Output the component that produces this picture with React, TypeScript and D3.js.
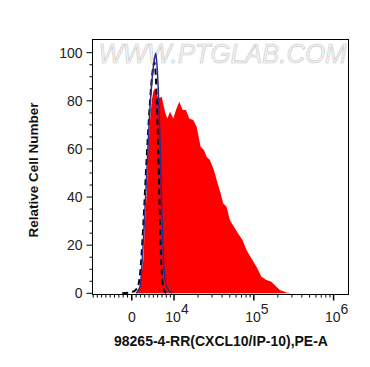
import React from "react";
import * as d3 from "d3";

// Histogram data: x in display (biexponential) decade units, y = relative cell number
const redX = [0.0625, 0.104, 0.145, 0.166, 0.1875, 0.2075, 0.229, 0.25, 0.27, 0.291, 0.3325, 0.375, 0.416, 0.445, 0.479, 0.52, 0.554, 0.595, 0.6375, 0.679, 0.72, 0.77, 0.8125, 0.8625, 0.904, 0.9375, 0.979, 1.029, 1.07, 1.1125, 1.145, 1.1875, 1.229, 1.279, 1.3325, 1.3875, 1.4375, 1.5, 1.5625, 1.625, 1.6875, 1.75, 1.79, 1.855, 1.9375, 2.0];
const redY = [0, 3, 14, 30, 42, 60, 72, 80, 84, 85.2, 81, 81.7, 75.5, 72.7, 75.5, 72.7, 76.2, 79.6, 76.2, 76.2, 72.7, 72, 69.2, 60.9, 59.6, 56.8, 55.4, 51.2, 46.4, 41.6, 37.4, 36, 30.5, 27.7, 24.9, 22.2, 18, 14.5, 11, 6.9, 5.5, 4.8, 3.4, 1.4, 0.3, 0];

const blueX = [0.054, 0.104, 0.145, 0.1875, 0.229, 0.27, 0.2825, 0.3, 0.32, 0.3325, 0.354, 0.375, 0.395, 0.416, 0.4375, 0.5];
const blueY = [0, 3, 22, 50, 77.6, 94, 97, 99.8, 92.8, 84.5, 63.7, 36, 15.2, 6, 2.7, 0];

const blackX = [-0.12, 0.004, 0.066, 0.104, 0.145, 0.1875, 0.229, 0.26, 0.2825, 0.304, 0.3225, 0.339, 0.354, 0.375, 0.3975, 0.429];
const blackY = [0, 0.5, 2, 8, 29, 57, 80, 92, 96, 88, 70, 50, 28, 9, 2, 0];

const yTicks = [0, 20, 40, 60, 80, 100];
const yMinor = [5, 10, 15, 25, 30, 35, 45, 50, 55, 65, 70, 75, 85, 90, 95];
const xMajor = [0, 1e4, 1e5, 1e6];
const xMajorLabel = ["0", "4", "5", "6"];
const xMinor = [
  -9000, -8000, -7000, -6000, -5000, -4000, -3000, -2000, -1000,
  1000, 2000, 3000, 4000, 5000, 6000, 7000, 8000, 9000,
  2e4, 3e4, 4e4, 5e4, 6e4, 7e4, 8e4, 9e4,
  2e5, 3e5, 4e5, 5e5, 6e5, 7e5, 8e5, 9e5,
];

// biexponential-like transform (linear near zero, log above L)
const L = 8035;
const LN10 = Math.LN10;
function T(v: number): number {
  const a = Math.abs(v);
  if (a <= L) return v / (L * LN10);
  return Math.sign(v) * (1 / LN10 + Math.log10(a / L));
}

const left = 92.5, right = 348.5, top = 39.5, bottom = 294.5;
const xs = d3.scaleLinear().domain([-0.4925, 2.716]).range([left, right]);
const ys = d3.scaleLinear().domain([0, 100]).range([293.3, 52.7]);

const font = "Arial, 'Liberation Sans', sans-serif";

function areaPath(xa: number[], ya: number[]) {
  const pts = xa.map((x, i) => [x, ya[i]] as [number, number]);
  return d3.area<[number, number]>().x(d => xs(d[0])).y0(ys(0)).y1(d => ys(d[1]))(pts) || "";
}
function linePath(xa: number[], ya: number[]) {
  const pts = xa.map((x, i) => [x, ya[i]] as [number, number]);
  return d3.line<[number, number]>().x(d => xs(d[0])).y(d => ys(d[1])).curve(d3.curveMonotoneX)(pts) || "";
}

export default function App() {
  return (
    <svg width={370} height={367} style={{ position: "absolute", left: 0, top: 0, background: "#fff" }}>
      <rect x={0} y={0} width={370} height={367} fill="#fff" />
      <defs>
        <clipPath id="plot">
          <rect x={left} y={top} width={right - left} height={bottom - top} />
        </clipPath>
      </defs>
      <text x={(left + right) / 2 + 2} y={63} textAnchor="middle" fontFamily={font} fontSize={27}
        fontStyle="italic" fill="#f5f5f5" stroke="#c6c6c6" strokeWidth={0.6}
        textLength={248} lengthAdjust="spacingAndGlyphs">WWW.PTGLAB.COM</text>
      <g clipPath="url(#plot)">
        <path d={areaPath(redX, redY)} fill="#ff0000" />
        <path d={linePath(blackX, blackY)} fill="none" stroke="#000" strokeWidth={2} strokeDasharray="6,4" />
        <path d={linePath(blueX, blueY)} fill="none" stroke="#2a2a90" strokeWidth={1.5} />
      </g>
      <rect x={left} y={top} width={right - left} height={bottom - top} fill="none" stroke="#000" strokeWidth={1} />
      {/* Y axis */}
      {yTicks.map(t => (
        <g key={"y" + t}>
          <line x1={left - 6} x2={left} y1={ys(t)} y2={ys(t)} stroke="#000" />
          <text x={left - 10} y={ys(t) + 5} textAnchor="end" fontFamily={font} fontSize={14} fill="#222">{t}</text>
        </g>
      ))}
      {yMinor.map(t => (
        <line key={"ym" + t} x1={left - 3} x2={left} y1={ys(t)} y2={ys(t)} stroke="#000" />
      ))}
      {/* X axis */}
      {xMinor.map(v => (
        <line key={"xm" + v} x1={xs(T(v))} x2={xs(T(v))} y1={bottom} y2={bottom + 3} stroke="#000" />
      ))}
      {xMajor.map((v, i) => {
        const px = xs(T(v));
        return (
          <g key={"x" + v}>
            <line x1={px} x2={px} y1={bottom} y2={bottom + 6} stroke="#000" strokeWidth={1.5} />
            {v === 0 ? (
              <text x={px} y={322} textAnchor="middle" fontFamily={font} fontSize={14} fill="#222">0</text>
            ) : (
              <text x={px + 3} y={322} textAnchor="middle" fontFamily={font} fontSize={14} fill="#222">
                10<tspan dy={-8} fontSize={14}>{xMajorLabel[i]}</tspan>
              </text>
            )}
          </g>
        );
      })}
      <text x={221} y={346} textAnchor="middle" fontFamily={font} fontSize={14} fontWeight="bold" fill="#111">98265-4-RR(CXCL10/IP-10),PE-A</text>
      <text transform="translate(38,170) rotate(-90)" textAnchor="middle" fontFamily={font} fontSize={13.5} fontWeight="bold" fill="#111">Relative Cell Number</text>
    </svg>
  );
}
